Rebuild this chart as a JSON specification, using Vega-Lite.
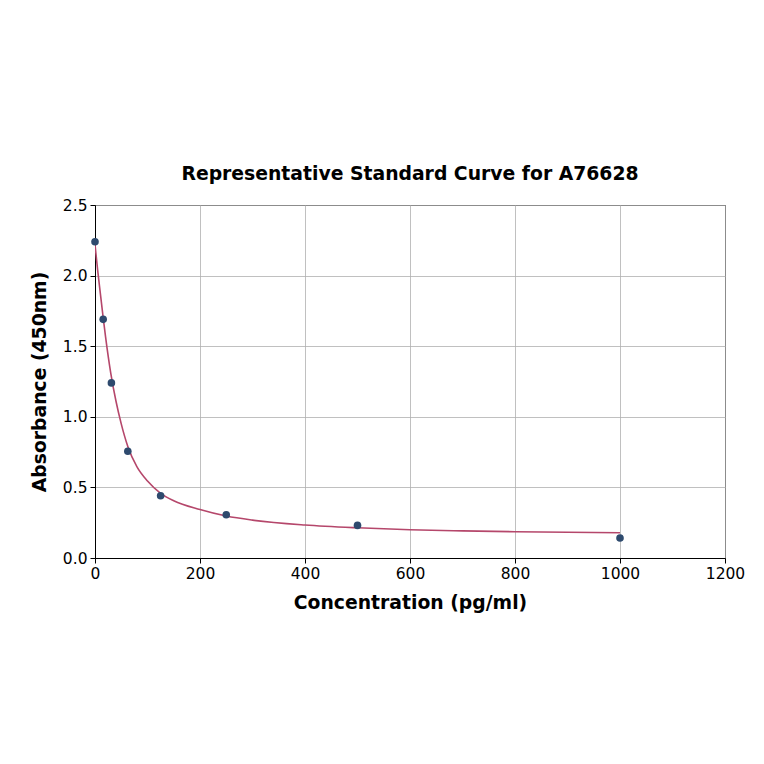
{
  "$schema": "https://vega.github.io/schema/vega-lite/v6.json",
  "width": 630,
  "height": 353,
  "autosize": {"type": "none"},
  "padding": {"left": 95, "top": 205, "right": 39, "bottom": 206},
  "background": "white",
  "title": {"text": "Representative Standard Curve for A76628", "font": "DejaVu Sans", "fontSize": 18.8, "fontWeight": "bold", "color": "black", "offset": 14, "anchor": "middle"},
  "config": {
    "view": {"stroke": "black", "strokeWidth": 1},
    "axis": {"labelFont": "DejaVu Sans", "labelFontSize": 15.5, "labelColor": "black", "titleFont": "DejaVu Sans", "titleFontSize": 18.8, "titleFontWeight": "bold", "titleColor": "black", "domainColor": "black", "tickColor": "black", "tickSize": 5, "gridColor": "#b0b0b0", "gridWidth": 0.8, "labelPadding": 3, "labelFlush": false}
  },
  "datasets": {
    "points": [
      {"conc": 0, "od": 2.24},
      {"conc": 15.6, "od": 1.69},
      {"conc": 31.25, "od": 1.24},
      {"conc": 62.5, "od": 0.756},
      {"conc": 125, "od": 0.441},
      {"conc": 250, "od": 0.306},
      {"conc": 500, "od": 0.231},
      {"conc": 1000, "od": 0.142}
    ],
    "curve": [
      {"conc": 0, "od": 2.22},
      {"conc": 5, "od": 2.04},
      {"conc": 10, "od": 1.88},
      {"conc": 15, "od": 1.72},
      {"conc": 20, "od": 1.57},
      {"conc": 30, "od": 1.31},
      {"conc": 40, "od": 1.11},
      {"conc": 50, "od": 0.95},
      {"conc": 62.5, "od": 0.79},
      {"conc": 80, "od": 0.645},
      {"conc": 100, "od": 0.545},
      {"conc": 125, "od": 0.458},
      {"conc": 150, "od": 0.405},
      {"conc": 200, "od": 0.343},
      {"conc": 250, "od": 0.297},
      {"conc": 300, "od": 0.268},
      {"conc": 400, "od": 0.234},
      {"conc": 500, "od": 0.214},
      {"conc": 600, "od": 0.2},
      {"conc": 700, "od": 0.192},
      {"conc": 800, "od": 0.186},
      {"conc": 900, "od": 0.182},
      {"conc": 1000, "od": 0.179}
    ]
  },
  "layer": [
    {
      "data": {"name": "curve"},
      "mark": {"type": "line", "color": "#b5476b", "strokeWidth": 1.6, "interpolate": "monotone", "clip": true},
      "encoding": {
        "x": {"field": "conc", "type": "quantitative", "scale": {"domain": [0, 1200], "nice": false}, "axis": {"values": [0, 200, 400, 600, 800, 1000, 1200], "format": "d", "title": "Concentration (pg/ml)", "grid": true, "titlePadding": 12}},
        "y": {"field": "od", "type": "quantitative", "scale": {"domain": [0, 2.5], "nice": false}, "axis": {"values": [0, 0.5, 1.0, 1.5, 2.0, 2.5], "format": ".1f", "title": "Absorbance (450nm)", "grid": true, "titlePadding": 13}}
      }
    },
    {
      "data": {"name": "points"},
      "mark": {"type": "circle", "color": "#2e4a6e", "opacity": 1, "size": 58},
      "encoding": {
        "x": {"field": "conc", "type": "quantitative"},
        "y": {"field": "od", "type": "quantitative"}
      }
    }
  ]
}
